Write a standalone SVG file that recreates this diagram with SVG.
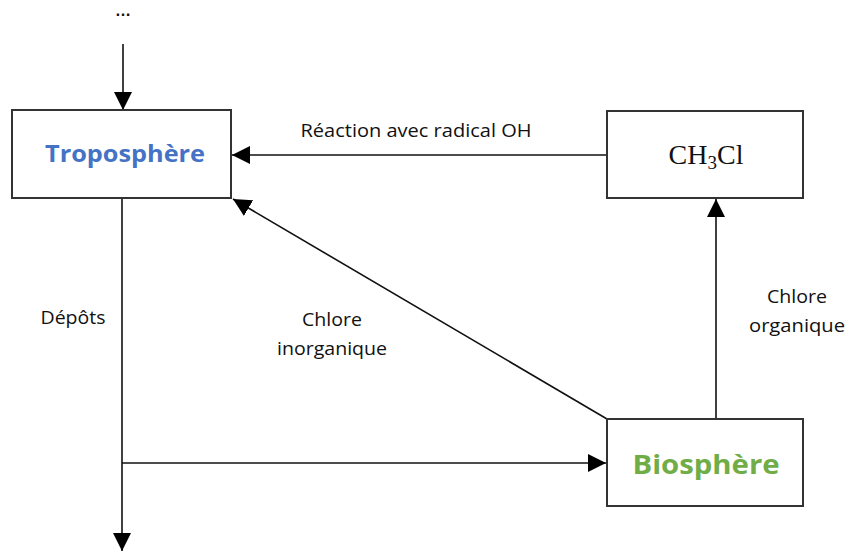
<svg xmlns="http://www.w3.org/2000/svg" width="846" height="552" viewBox="0 0 846 552">
<style>
.box{fill:#fff;stroke:#333;stroke-width:2}
.ln{fill:none;stroke:#111;stroke-width:1.6}
.lbl{font-family:"Open Sans","Liberation Sans",sans-serif;font-size:18px;fill:#111}
</style>
<defs>
<marker id="ah" viewBox="0 0 10 10" refX="10" refY="5" markerWidth="18" markerHeight="18" markerUnits="userSpaceOnUse" orient="auto">
<path d="M0,0 L10,5 L0,10 z" fill="#000"/>
</marker>
</defs>
<text x="123" y="16" text-anchor="middle" font-family="'Liberation Sans',sans-serif" font-weight="bold" font-size="16" fill="#111" textLength="23" lengthAdjust="spacing">…</text>
<g id="connectors">
<line class="ln" x1="123" y1="44" x2="123" y2="110" marker-end="url(#ah)"/>
<line class="ln" x1="607" y1="155" x2="232" y2="155" marker-end="url(#ah)"/>
<line class="ln" x1="607" y1="419" x2="233" y2="199" marker-end="url(#ah)"/>
<line class="ln" x1="716" y1="419" x2="716" y2="199" marker-end="url(#ah)"/>
<line class="ln" x1="122" y1="198" x2="122" y2="551" marker-end="url(#ah)"/>
<line class="ln" x1="122" y1="463" x2="606" y2="463" marker-end="url(#ah)"/>
</g>
<g id="troposphere">
<rect class="box" x="12" y="110" width="219" height="88"/>
<text x="125" y="162" text-anchor="middle" font-family="'Open Sans','Liberation Sans',sans-serif" font-weight="bold" font-size="23" fill="#4472C4" textLength="160" lengthAdjust="spacingAndGlyphs">Troposphère</text>
</g>
<g id="ch3cl">
<rect class="box" x="607" y="111" width="196" height="87"/>
<text x="706" y="164" text-anchor="middle" font-family="'Liberation Serif',serif" font-size="28" fill="#111">CH<tspan font-size="19" dy="5">3</tspan><tspan dy="-5">Cl</tspan></text>
</g>
<g id="biosphere">
<rect class="box" x="607" y="419" width="196" height="87"/>
<text x="706" y="474" text-anchor="middle" font-family="'Open Sans','Liberation Sans',sans-serif" font-weight="bold" font-size="27" fill="#70AD47" textLength="147" lengthAdjust="spacingAndGlyphs">Biosphère</text>
</g>
<g id="labels">
<text x="416" y="137" text-anchor="middle" class="lbl" textLength="231" lengthAdjust="spacingAndGlyphs">Réaction avec radical OH</text>
<text x="73" y="324" text-anchor="middle" class="lbl" textLength="65" lengthAdjust="spacingAndGlyphs">Dépôts</text>
<text x="332" y="326" text-anchor="middle" class="lbl" textLength="60" lengthAdjust="spacingAndGlyphs">Chlore</text>
<text x="332" y="355" text-anchor="middle" class="lbl" textLength="110" lengthAdjust="spacingAndGlyphs">inorganique</text>
<text x="797" y="303" text-anchor="middle" class="lbl" textLength="60" lengthAdjust="spacingAndGlyphs">Chlore</text>
<text x="797" y="332" text-anchor="middle" class="lbl" textLength="96" lengthAdjust="spacingAndGlyphs">organique</text>
</g>
</svg>
